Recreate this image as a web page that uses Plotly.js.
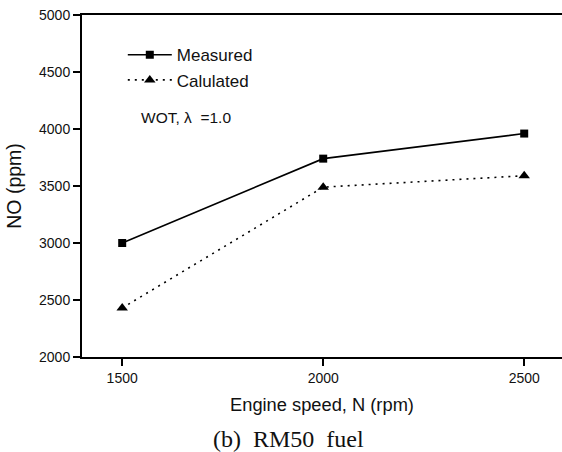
<!DOCTYPE html>
<html>
<head>
<meta charset="utf-8">
<script src="https://cdn.plot.ly/plotly-3.0.1.min.js"></script>
<style>html,body{margin:0;padding:0;background:#fff;}#chart{width:562px;height:452px;}</style>
</head>
<body>
<div id="chart"></div>
<script>
// Data
const engineSpeed = [1500, 2000, 2500];
const measuredNO = [3000, 3740, 3960];
const calculatedNO = [2430, 3490, 3590];
const seriesNames = ["Measured", "Calulated"];
const yTicks = [2000, 2500, 3000, 3500, 4000, 4500, 5000];
const xTicks = [1500, 2000, 2500];

const font = "Liberation Sans, Arial, Helvetica, sans-serif";

const traces = [
  {
    x: engineSpeed, y: measuredNO, name: seriesNames[0],
    mode: "lines+markers", type: "scatter",
    line: {color: "#000", width: 1.6},
    marker: {symbol: "square", size: 8, color: "#000"}
  },
  {
    x: engineSpeed, y: calculatedNO, name: seriesNames[1],
    mode: "lines+markers", type: "scatter",
    line: {color: "#000", width: 1.6, dash: "2px,5px"},
    marker: {symbol: "triangle-up", size: 10, color: "#000"}
  }
];

const layout = {
  width: 562, height: 452,
  margin: {l: 82, r: 0, t: 15, b: 95},
  paper_bgcolor: "#fff", plot_bgcolor: "#fff",
  font: {family: font, color: "#111"},
  showlegend: true,
  legend: {
    x: 0.085, y: 0.935, xanchor: "left", yanchor: "top",
    bgcolor: "rgba(0,0,0,0)", borderwidth: 0,
    font: {family: font, size: 17, color: "#111"},
    itemwidth: 44, tracegroupgap: 0
  },
  xaxis: {
    range: [1400, 2594],
    tickvals: xTicks, ticktext: xTicks.map(String),
    showgrid: false, zeroline: false,
    showline: true, linecolor: "#000", linewidth: 2, mirror: true,
    ticks: "outside", ticklen: 7, tickwidth: 2, tickcolor: "#000",
    tickfont: {family: font, size: 14, color: "#111"},
    title: {text: "Engine speed, N (rpm)", font: {family: font, size: 18.3, color: "#111"}, standoff: 13}
  },
  yaxis: {
    range: [2000, 5000],
    tickvals: yTicks, ticktext: yTicks.map(String),
    showgrid: false, zeroline: false,
    showline: true, linecolor: "#000", linewidth: 2,
    ticks: "outside", ticklen: 7, tickwidth: 2, tickcolor: "#000",
    tickfont: {family: font, size: 14, color: "#111"},
    title: {text: "NO (ppm)", font: {family: font, size: 19.5, color: "#111"}, standoff: 12}
  },
  annotations: [
    {
      text: "WOT, λ  =1.0", xref: "paper", yref: "paper",
      x: (139 - 82) / 480, y: (357 - 117) / 342, xanchor: "left", yanchor: "middle",
      showarrow: false, font: {family: font, size: 15.5, color: "#111"}
    },
    {
      text: "(b)\u00a0\u00a0RM50\u00a0\u00a0fuel", xref: "paper", yref: "paper",
      x: (288 - 82) / 480, y: (357 - 439) / 342, xanchor: "center", yanchor: "middle",
      showarrow: false, font: {family: "Liberation Serif, Times New Roman, serif", size: 24, color: "#111"}
    }
  ]
};

Plotly.newPlot("chart", traces, layout, {displayModeBar: false, staticPlot: true});
</script>
</body>
</html>
